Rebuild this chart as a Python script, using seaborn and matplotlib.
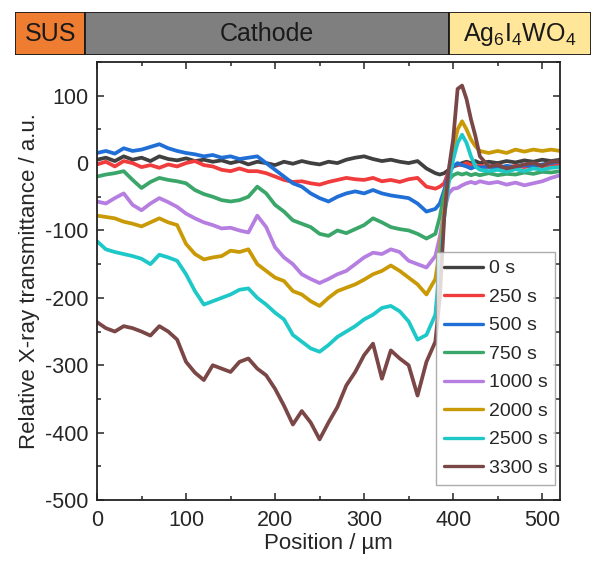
import numpy as np
import pandas as pd
import matplotlib
matplotlib.use("Agg")
import matplotlib.pyplot as plt
from matplotlib.patches import Rectangle
import seaborn as sns

# position grid (um)
position = list(range(0, 390, 10)) + [385, 390, 395, 400, 405, 410, 415, 420, 425, 430] + list(range(440, 530, 10))
position = sorted(set(position))

t0 = [5, 8, 3, 10, 5, 8, 3, 10, 6, 4, 7, 3, 5, 2, 4, 0, 3, -2, 2, 0, -3, 2, -1, 3, 0, -2, 2, 0, 5, 8,
      10, 6, 3, 5, 2, 0, 3, -8, -15, -17, -15, -10, -5, -3, 0, 2, 0, 3, 0, 2, 0, 3, 1, 4, 2, 5, 3, 5]
t250 = [-2, 2, -5, 3, 0, -6, -3, -7, -2, -5, 0, 3, -3, -5, -10, -12, -8, -12, -12, -15, -20, -25, -28, -27,
        -30, -32, -28, -25, -22, -24, -25, -22, -27, -25, -28, -24, -22, -35, -38, -35, -30, -12, -5, -2,
        -3, 0, -3, -5, -4, -6, -3, -7, -4, -6, -3, -5, -2, -3]
t500 = [15, 18, 14, 22, 18, 20, 24, 28, 22, 18, 15, 13, 10, 12, 8, 10, 6, 8, 10, 0, -10, -20, -30, -35,
        -45, -52, -57, -50, -45, -42, -45, -40, -45, -48, -50, -52, -60, -72, -68, -60, -40, -15, -5, 0,
        -3, -5, -8, -5, -7, -5, -8, -4, -6, -3, -5, -2, 0, 3]
t750 = [-20, -17, -15, -12, -25, -37, -28, -22, -25, -27, -30, -40, -46, -50, -55, -57, -55, -50, -35, -45,
        -62, -72, -85, -90, -95, -105, -108, -100, -104, -98, -92, -82, -88, -95, -98, -100, -105, -112,
        -105, -80, -45, -25, -18, -15, -17, -15, -18, -16, -18, -15, -18, -16, -17, -14, -16, -13, -14, -12]
t1000 = [-57, -60, -52, -45, -62, -70, -60, -52, -58, -65, -75, -82, -88, -92, -97, -96, -100, -103, -78,
         -95, -125, -140, -150, -165, -172, -178, -172, -165, -160, -150, -140, -133, -135, -128, -132,
         -145, -150, -155, -138, -110, -70, -45, -38, -37, -33, -30, -28, -30, -27, -30, -28, -32, -29,
         -33, -30, -27, -22, -18]
t2000 = [-78, -80, -82, -87, -90, -94, -88, -82, -88, -92, -120, -135, -143, -140, -138, -130, -132, -128,
         -150, -160, -170, -175, -190, -195, -205, -212, -200, -190, -185, -180, -173, -165, -160, -152,
         -160, -170, -180, -195, -172, -130, -70, -20, 20, 50, 62, 50, 35, 25, 18, 15, 18, 15, 20, 17,
         20, 18, 20, 18]
t2500 = [-116, -128, -132, -135, -138, -142, -150, -136, -140, -145, -165, -190, -210, -205, -200, -195,
         -188, -186, -200, -210, -222, -232, -255, -265, -275, -280, -270, -258, -250, -242, -232, -225,
         -215, -212, -220, -235, -262, -255, -225, -150, -80, -30, 5, 30, 42, 30, 10, -5, -10, -12, -10,
         -13, -9, -12, -8, -10, -7, -6]
t3300 = [-236, -245, -250, -242, -245, -250, -256, -242, -250, -262, -295, -311, -322, -300, -305, -310,
         -295, -290, -305, -315, -335, -360, -388, -368, -385, -410, -385, -362, -330, -310, -285, -268,
         -320, -278, -290, -300, -345, -295, -265, -200, -80, -10, 35, 110, 115, 95, 65, 40, 10, -5, -3,
         -8, -5, -2, 0, -4, 2, 3]

labels = ["0 s", "250 s", "500 s", "750 s", "1000 s", "2000 s", "2500 s", "3300 s"]
series = [t0, t250, t500, t750, t1000, t2000, t2500, t3300]
colors = ["#404040", "#f03c3c", "#1f6fd6", "#3aa66a", "#b57ee0", "#c99a06", "#1ec8c8", "#7a4646"]

rows = []
for lab, vals in zip(labels, series):
    for x, y in zip(position, vals):
        rows.append((x, y, lab))
df = pd.DataFrame(rows, columns=["Position", "Value", "Time"])

sns.set_style("ticks")
plt.rcParams["font.family"] = ["Liberation Sans", "DejaVu Sans"]
plt.rcParams["mathtext.fontset"] = "custom"
plt.rcParams["mathtext.rm"] = "Liberation Sans"
plt.rcParams["mathtext.default"] = "regular"
plt.rcParams["axes.unicode_minus"] = False

fig = plt.figure(figsize=(5.92, 5.66), dpi=100)
ax = fig.add_axes([97 / 592, 1 - 500 / 566, 463 / 592, 438 / 566])

sns.lineplot(data=df, x="Position", y="Value", hue="Time", palette=colors,
             hue_order=labels, linewidth=2.7, ax=ax, estimator=None, sort=True)

ax.set_xlim(0, 520)
ax.set_ylim(-500, 150)
ax.set_xticks(range(0, 501, 100))
ax.set_yticks(range(-500, 101, 100))
ax.set_xticks(range(50, 520, 100), minor=True)
ax.set_yticks(range(-450, 151, 100), minor=True)
ax.tick_params(which="both", direction="in", top=True, right=True, width=1.1, labelsize=15.5)
ax.tick_params(which="major", length=5)
ax.tick_params(which="minor", length=3)
ax.tick_params(axis="x", pad=7)
ax.tick_params(axis="y", pad=6)
for s in ax.spines.values():
    s.set_linewidth(1.3)
    s.set_color("#222222")
ax.set_xlabel("Position / µm", fontsize=16, labelpad=2)
ax.set_ylabel("Relative X-ray transmittance / a.u.", fontsize=16, labelpad=4)

leg = ax.legend(loc="lower right", bbox_to_anchor=(0.99, 0.035), fontsize=14, frameon=True,
                fancybox=False, edgecolor="#999999", handlelength=2.0, labelspacing=0.56,
                handletextpad=0.3, borderpad=0.4, borderaxespad=0)
for line in leg.get_lines():
    line.set_linewidth(2.4)

# material band on top
band = fig.add_axes([15 / 592, 1 - 55 / 566, 576 / 592, 43 / 566])
band.set_xlim(0, 1)
band.set_ylim(0, 1)
band.axis("off")
sections = [(0.0, 0.122, "#ee7d31", "SUS"),
            (0.122, 0.753, "#7f7f7f", "Cathode"),
            (0.753, 1.0, "#ffe699", r"Ag$_6$I$_4$WO$_4$")]
for x0, x1, c, txt in sections:
    band.add_patch(Rectangle((x0, 0), x1 - x0, 1, facecolor=c, edgecolor="#1a1a1a", linewidth=1.3))
    band.text((x0 + x1) / 2, 0.48, txt, ha="center", va="center", fontsize=18, color="#1a1a1a")

fig.savefig("out.png", dpi=100)
